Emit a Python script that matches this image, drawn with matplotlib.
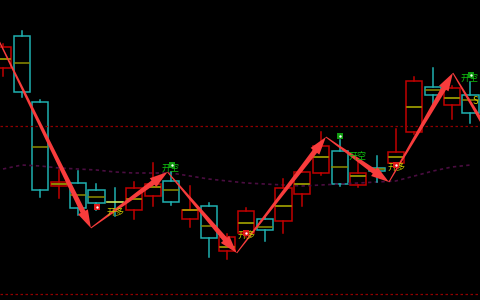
import matplotlib.pyplot as plt
import numpy as np
from matplotlib.patches import Rectangle, Polygon
from matplotlib.transforms import IdentityTransform

plt.rcParams['font.family'] = ['Noto Sans CJK SC', 'DejaVu Sans']

# candles (price units)
opens  = [3232, 3264, 3198, 3114, 3117, 3110, 3098, 3090, 3104, 3119, 3081, 3094, 3049,
          3067, 3081, 3079, 3106, 3127, 3149, 3115, 3132, 3137, 3168, 3213, 3195, 3205]
closes = [3253, 3208, 3110, 3118, 3092, 3097, 3097, 3112, 3116, 3098, 3090, 3062, 3063,
          3089, 3070, 3112, 3128, 3154, 3116, 3127, 3129, 3148, 3219, 3205, 3212, 3187]
highs  = [3256, 3269, 3200, 3130, 3129, 3116, 3112, 3118, 3137, 3128, 3114, 3097, 3066,
          3092, 3083, 3121, 3130, 3168, 3160, 3140, 3144, 3171, 3223, 3232, 3214, 3218]
lows   = [3224, 3203, 3103, 3102, 3085, 3090, 3084, 3081, 3094, 3095, 3073, 3043, 3041,
          3063, 3059, 3067, 3094, 3125, 3114, 3113, 3118, 3134, 3166, 3195, 3181, 3177]
mids   = [3241, 3237, 3153, 3116, 3105, 3103, 3098, 3101, 3113, 3110, 3090, 3074, 3053,
          3077, 3073, 3094, 3116, 3143, 3133, 3124, 3131, 3143, 3193, 3210, 3202, 3200]

# moving average line
ma = [3131, 3135, 3134, 3132, 3131, 3130, 3128, 3127, 3127, 3127, 3124, 3121, 3119,
      3117, 3116, 3115, 3114, 3115, 3116, 3117, 3118, 3119, 3124, 3129, 3133, 3135]

# zigzag vertices (index, price)
zz_x = [-0.5, 4.7, 8.8, 12.5, 17.27, 20.64, 24.06, 27.0]
zz_y = [3270, 3072, 3128, 3047, 3163, 3118, 3227, 3135]

levels = [3174, 3006]

# signals
long_x, long_y = [5.03, 13.0, 21.02], [3093, 3067, 3135]
long_tx, long_ty = [6.0, 13.0, 21.02], [3088, 3065, 3133]
short_x, short_y = [9.04, 18.02, 25.03], [3135, 3164, 3225]
short_tx, short_ty = [8.98, 18.98, 24.97], [3132, 3144, 3222]

RED = '#c00000'
CYAN = '#1fb0b0'

fig = plt.figure(figsize=(4.8, 3.0), dpi=100, facecolor='black')
ax = fig.add_axes([0, 0, 1, 1])
ax.set_facecolor('black')
ax.set_xlim(-0.16, 25.51)
ax.set_ylim(3000, 3300)
ax.axis('off')

for lv in levels:
    ax.axhline(lv, color='#900000', lw=0.9, ls=(0, (2, 2)))

ax.plot(range(len(ma)), ma, color='#4a0d40', lw=1.2, ls=(0, (2, 2)))

w = 0.86
for i in range(len(opens)):
    o, c, h, l = opens[i], closes[i], highs[i], lows[i]
    up = c >= o
    col = RED if up else CYAN
    top, bot = max(o, c), min(o, c)
    ax.plot([i, i], [top, h], color=col, lw=1.1)
    ax.plot([i, i], [l, bot], color=col, lw=1.1)
    if top - bot <= 1.5:
        if up:
            ax.add_patch(Rectangle((i - w / 2, bot), w, top - bot + 1, facecolor='#a00000',
                                   edgecolor=RED, lw=1.0))
        else:
            ax.plot([i - w / 2, i + w / 2], [top, top], color='#c8e860', lw=1.2)
        continue
    ax.add_patch(Rectangle((i - w / 2, bot), w, top - bot, facecolor='none',
                           edgecolor=col, lw=1.1))
    ax.plot([i - w / 2 + 0.05, i + w / 2 - 0.05], [mids[i], mids[i]],
            color='#b4b400' if up else '#8c8c00', lw=1.1)


def taper_arrow(p0, p1, color='#f83c3c'):
    t = ax.transData
    a = t.transform(p0)
    b = t.transform(p1)
    d = b - a
    u = d / np.hypot(*d)
    n = np.array([-u[1], u[0]])
    head_len, head_w, shaft_w, tail_w = 18, 5.5, 2.6, 0.5
    base = b - u * head_len
    pts = [a + n * tail_w, base + n * shaft_w, base + n * head_w, b,
           base - n * head_w, base - n * shaft_w, a - n * tail_w]
    ax.add_patch(Polygon(pts, closed=True, transform=IdentityTransform(),
                         facecolor=color, lw=0, zorder=5))


for k in range(len(zz_x) - 1):
    taper_arrow((zz_x[k], zz_y[k]), (zz_x[k + 1], zz_y[k + 1]))

for x, y in zip(long_tx, long_ty):
    ax.text(x, y, '开多', color='#c8c800', fontsize=6.5, ha='center', va='center', zorder=6)
for x, y in zip(short_tx, short_ty):
    ax.text(x, y, '开空', color='#10c010', fontsize=6.5, ha='center', va='center', zorder=6)
ax.text(25.29, 3199, 'S', color='#c8c800', fontsize=7, ha='center', va='center', zorder=6)

ax.scatter(long_x, long_y, marker='s', s=22, color='#e01818', zorder=7, lw=0)
ax.scatter(long_x, long_y, marker='o', s=3, color='white', zorder=8, lw=0)
ax.scatter(short_x, short_y, marker='s', s=18, color='#109a10', zorder=7, lw=0)
ax.scatter(short_x, short_y, marker='o', s=3, color='white', zorder=8, lw=0)

fig.savefig('out.png', dpi=100, facecolor='black')
